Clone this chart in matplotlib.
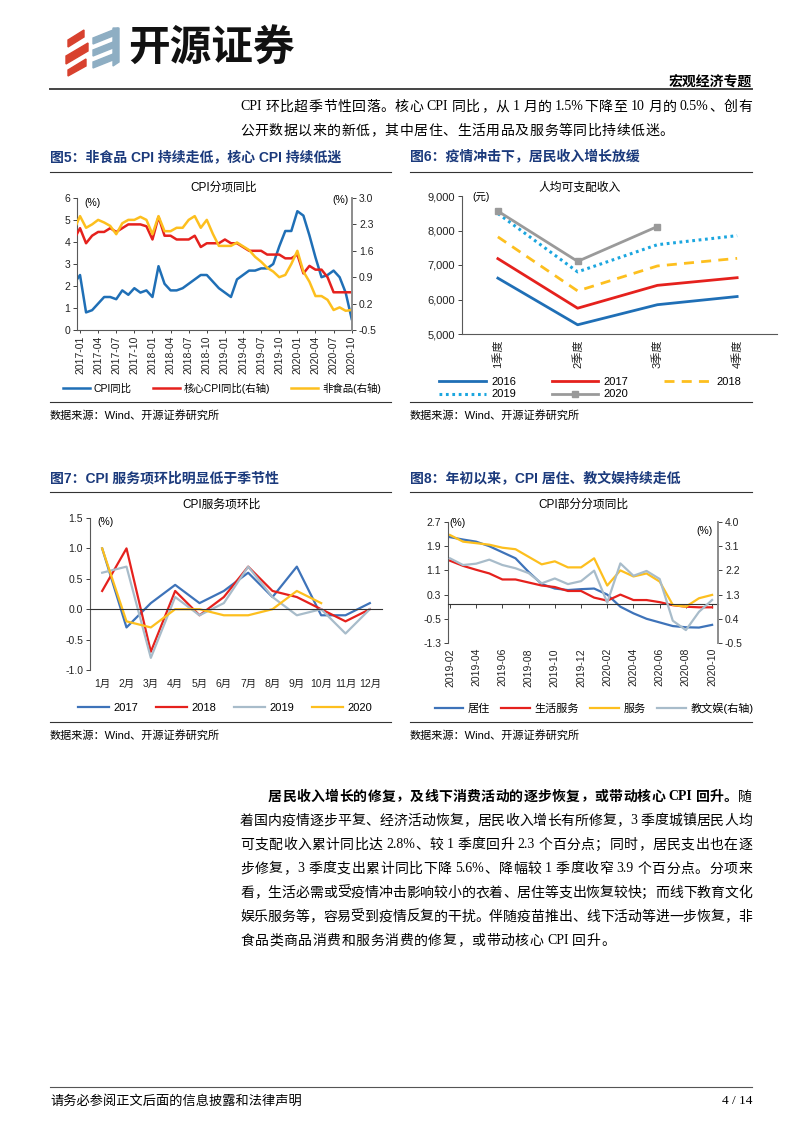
import re
import numpy as np
import matplotlib
matplotlib.use('Agg')
import matplotlib.pyplot as plt
from matplotlib.patches import Polygon
from matplotlib.lines import Line2D
from matplotlib.ticker import FuncFormatter

plt.rcParams['font.family'] = ['Liberation Sans', 'Noto Sans CJK SC']
plt.rcParams['axes.unicode_minus'] = False

# ---------------- data ----------------
all_months = [f'{y}-{m:02d}' for y in range(2016, 2021) for m in range(1, 13)]

# 图5: CPI分项同比, 2016-12 ~ 2020-10
months5 = all_months[11:58]
cpi_yoy = [2.1, 2.5, 0.8, 0.9, 1.2, 1.5, 1.5, 1.4, 1.8, 1.6, 1.9, 1.7, 1.8,
           1.5, 2.9, 2.1, 1.8, 1.8, 1.9, 2.1, 2.3, 2.5, 2.5, 2.2, 1.9,
           1.7, 1.5, 2.3, 2.5, 2.7, 2.7, 2.8, 2.8, 3.0, 3.8, 4.5, 4.5,
           5.4, 5.2, 4.3, 3.3, 2.4, 2.5, 2.7, 2.4, 1.7, 0.5]
core_yoy = [1.9, 2.2, 1.8, 2.0, 2.1, 2.1, 2.2, 2.1, 2.2, 2.3, 2.3, 2.3, 2.25,
            1.9, 2.5, 2.0, 2.0, 1.9, 1.9, 1.9, 2.0, 1.7, 1.8, 1.8, 1.8,
            1.9, 1.8, 1.8, 1.7, 1.6, 1.6, 1.6, 1.5, 1.5, 1.5, 1.4, 1.4,
            1.5, 1.0, 1.2, 1.1, 1.1, 0.9, 0.5, 0.5, 0.5, 0.5]
nonfood_yoy = [2.15, 2.52, 2.21, 2.3, 2.42, 2.35, 2.26, 2.04, 2.33, 2.42, 2.42, 2.5, 2.42,
               2.04, 2.52, 2.12, 2.12, 2.21, 2.21, 2.42, 2.52, 2.21, 2.42, 2.05, 1.73,
               1.73, 1.73, 1.82, 1.72, 1.62, 1.44, 1.31, 1.15, 1.05, 0.9, 0.96, 1.25,
               1.6, 1.05, 0.78, 0.4, 0.4, 0.3, 0.03, 0.1, 0.01, 0.03]

# 图6: 人均可支配收入(元)
quarters = ['1季度', '2季度', '3季度', '4季度']
inc_2016 = [6619, 5267, 5849, 6086]
inc_2017 = [7184, 5748, 6410, 6632]
inc_2018 = [7815, 6248, 6972, 7193]
inc_2019 = [8493, 6801, 7588, 7851]
inc_2020 = [8561, 7105, 8115]

# 图7: CPI服务项环比
months7 = [f'{m}月' for m in range(1, 13)]
svc_2017 = [1.0, -0.3, 0.1, 0.4, 0.1, 0.3, 0.6, 0.2, 0.7, -0.1, -0.1, 0.1]
svc_2018 = [0.3, 1.0, -0.7, 0.3, -0.1, 0.2, 0.7, 0.3, 0.2, 0.0, -0.2, 0.0]
svc_2019 = [0.6, 0.7, -0.8, 0.2, -0.1, 0.1, 0.7, 0.2, -0.1, 0.0, -0.4, 0.0]
svc_2020 = [1.0, -0.2, -0.3, 0.0, 0.0, -0.1, -0.1, 0.0, 0.3, 0.1]

# 图8: CPI部分分项同比, 2019-02 ~ 2020-10
months8 = all_months[37:58]
housing = [2.2, 2.12, 2.05, 1.9, 1.7, 1.5, 1.05, 0.65, 0.5, 0.45, 0.48, 0.5, 0.3,
           -0.1, -0.32, -0.5, -0.62, -0.74, -0.78, -0.79, -0.7]
life_svc = [1.42, 1.25, 1.12, 1.0, 0.8, 0.8, 0.7, 0.6, 0.55, 0.42, 0.42, 0.2, 0.1,
            0.3, 0.12, 0.12, 0.05, -0.05, -0.1, -0.12, -0.12]
services = [2.27, 2.05, 2.0, 1.95, 1.85, 1.8, 1.55, 1.3, 1.4, 1.2, 1.2, 1.5, 0.6,
            1.1, 0.9, 1.0, 0.73, -0.04, -0.1, 0.18, 0.29]
edu_cult = [2.65, 2.4, 2.45, 2.6, 2.4, 2.28, 2.1, 1.72, 1.9, 1.69, 1.8, 2.19, 1.0,
            2.46, 2.0, 2.18, 1.88, 0.33, -0.02, 0.66, 1.1]

# ---------------- colours ----------------
BLUE = '#1F6FB6'
RED = '#E5211D'
YEL = '#FDBF1E'
CYAN = '#1BA6DF'
GREY = '#9A9A9A'
BLUE2 = '#3E73B9'
GREY2 = '#A8BCCA'
NAVY = '#1B3A7C'
SPINE = '#595959'

W, H = 800, 1132
fig = plt.figure(figsize=(8, 11.32), dpi=100)


def fy(y):
    return 1 - y / H


def box(x0, y0, x1, y1):
    return [x0 / W, 1 - y1 / H, (x1 - x0) / W, (y1 - y0) / H]


def hline(x0, x1, y, lw=0.8, color='#333333'):
    fig.add_artist(Line2D([x0 / W, x1 / W], [fy(y), fy(y)], lw=lw, color=color))


def ftext(x, y, s, **kw):
    kw.setdefault('va', 'center')
    return fig.text(x / W, fy(y), s, **kw)


fmt1 = FuncFormatter(lambda v, p: f'{v:.1f}')

# ---------------- page header ----------------
red_bars = [[(68, 40), (84, 30), (84, 37), (68, 47)],
            [(66, 56), (88, 43), (88, 51), (66, 64)],
            [(68, 70), (86, 59), (86, 66), (68, 76)]]
blue_bars = [[(93, 38), (118, 28), (118, 34), (93, 44)],
             [(93, 50), (118, 40), (118, 46), (93, 56)],
             [(93, 62), (118, 52), (118, 58), (93, 68)],
             [(113, 28), (119, 28), (119, 62), (113, 66)]]
for pts in red_bars:
    fig.add_artist(Polygon([(x / W, fy(y)) for x, y in pts], closed=True, color='#D8412E'))
for pts in blue_bars:
    fig.add_artist(Polygon([(x / W, fy(y)) for x, y in pts], closed=True, color='#8EAEC3'))
ftext(128, 49, '开源证券', fontsize=30, fontweight='bold', family='Noto Sans CJK SC', color='#111111')
ftext(752, 83, '宏观经济专题', fontsize=10, fontweight='bold', ha='right', family='Noto Sans CJK SC')
hline(50, 752, 89, lw=1.4, color='#444444')

BODY = ['Liberation Serif', 'Noto Sans CJK SC']


def put_line(segs, x0, y, x1=None, size=10):
    # segs: list of (text, weight); spreads tokens so the line ends at x1
    r = fig.canvas.get_renderer()
    toks = []
    for s, wt in segs:
        for t in re.findall(r'[A-Za-z0-9.%/]+| |[^ ]', s):
            toks.append((t, wt))
    ws = []
    for t, wt in toks:
        if t == ' ':
            ws.append(3.0)
            continue
        tt = fig.text(0, 0, t, fontsize=size, fontweight=wt, family=BODY)
        ws.append(tt.get_window_extent(r).width)
        tt.remove()
    n = sum(1 for t, _ in toks if t != ' ')
    gap = 0.6
    if x1 is not None and n > 1:
        gap = (x1 - x0 - sum(ws)) / (n - 1)
    x = x0
    for (t, wt), w in zip(toks, ws):
        if t == ' ':
            x += w
            continue
        ftext(x, y, t, fontsize=size, fontweight=wt, family=BODY, ha='left')
        x += w + gap


put_line([('CPI 环比超季节性回落。核心 CPI 同比，从 1 月的 1.5%下降至 10 月的 0.5%、创有', 'normal')], 240, 107, 752)
put_line([('公开数据以来的新低，其中居住、生活用品及服务等同比持续低迷。', 'normal')], 240, 131)

# ---------------- captions ----------------
ftext(50, 157, '图5：非食品 CPI 持续走低，核心 CPI 持续低迷', fontsize=10, fontweight='bold', color=NAVY)
ftext(410, 157, '图6：疫情冲击下，居民收入增长放缓', fontsize=10, fontweight='bold', color=NAVY)
hline(50, 391, 172)
hline(410, 752, 172)
hline(50, 391, 402)
hline(410, 752, 402)
ftext(50, 415, '数据来源：Wind、开源证券研究所', fontsize=8)
ftext(410, 415, '数据来源：Wind、开源证券研究所', fontsize=8)

ftext(50, 478, '图7：CPI 服务项环比明显低于季节性', fontsize=10, fontweight='bold', color=NAVY)
ftext(410, 478, '图8：年初以来，CPI 居住、教文娱持续走低', fontsize=10, fontweight='bold', color=NAVY)
hline(50, 391, 492)
hline(410, 752, 492)
hline(50, 391, 722)
hline(410, 752, 722)
ftext(50, 735, '数据来源：Wind、开源证券研究所', fontsize=8)
ftext(410, 735, '数据来源：Wind、开源证券研究所', fontsize=8)

# ---------------- 图5 ----------------
ax1 = fig.add_axes(box(77, 198, 352, 330))
x5 = np.arange(len(months5))
l1, = ax1.plot(x5, cpi_yoy, color=BLUE, lw=1.8)
ax1.set_xlim(0.5, 46.05)
ax1.set_ylim(0, 6)
ax1.set_yticks(range(7))
ax1.set_xticks(x5[1::3])
ax1.set_xticklabels(months5[1::3])
ax1r = ax1.twinx()
l2, = ax1r.plot(x5, core_yoy, color=RED, lw=1.8)
l3, = ax1r.plot(x5, nonfood_yoy, color=YEL, lw=1.8)
ax1r.set_ylim(-0.5, 3.0)
ax1r.set_yticks([-0.5, 0.2, 0.9, 1.6, 2.3, 3.0])
ax1r.yaxis.set_major_formatter(fmt1)
for a in (ax1, ax1r):
    a.spines['top'].set_visible(False)
    a.tick_params(labelsize=7.5, length=3, width=0.6, pad=2, colors='#222222')
ax1.spines['right'].set_visible(False)
ax1r.spines['left'].set_visible(False)
ax1r.spines['bottom'].set_visible(False)
ax1.spines['left'].set_color(SPINE)
ax1.spines['bottom'].set_color(SPINE)
ax1r.spines['right'].set_color('#8C8C8C')
ax1r.spines['right'].set_linewidth(1.4)
ax1.tick_params(axis='x', length=2, labelrotation=90)
ftext(224, 188, 'CPI分项同比', fontsize=8.5, ha='center')
ftext(84, 203, '(%)', fontsize=7.5)
ftext(332, 200, '(%)', fontsize=7.5)
fig.legend([l1, l2, l3], ['CPI同比', '核心CPI同比(右轴)', '非食品(右轴)'],
           loc='center', bbox_to_anchor=(222 / W, fy(388)), ncol=3, frameon=False,
           fontsize=7.5, handlelength=2.6, handletextpad=0.4, columnspacing=2.0)

# ---------------- 图6 ----------------
ax2 = fig.add_axes(box(462, 196, 777, 334))
xq = np.arange(len(quarters))
h16, = ax2.plot(xq, inc_2016, color=BLUE, lw=2)
h17, = ax2.plot(xq, inc_2017, color=RED, lw=2)
h18, = ax2.plot(xq, inc_2018, color=YEL, lw=2, dashes=(3.6, 2.6))
h19, = ax2.plot(xq, inc_2019, color=CYAN, lw=2.2, dashes=(0.9, 1.2))
h20, = ax2.plot(xq[:len(inc_2020)], inc_2020, color=GREY, lw=2, marker='s', ms=4.5)
ax2.set_xlim(-0.45, 3.5)
ax2.set_ylim(5000, 9000)
ax2.set_yticks(range(5000, 9001, 1000))
ax2.yaxis.set_major_formatter(FuncFormatter(lambda v, p: f'{int(v):,}'))
ax2.set_xticks(xq)
ax2.set_xticklabels(quarters)
ax2.spines[['top', 'right']].set_visible(False)
ax2.spines['left'].set_color(SPINE)
ax2.spines['bottom'].set_color(SPINE)
ax2.tick_params(labelsize=8, length=3, width=0.6, pad=2, colors='#222222')
ax2.tick_params(axis='x', length=0, pad=4, labelrotation=90)
ftext(580, 188, '人均可支配收入', fontsize=8.5, ha='center')
ftext(472, 197, '(元)', fontsize=7.5)
fig.legend([h16, h19, h17, h20, h18], ['2016', '2019', '2017', '2020', '2018'],
           loc='center', bbox_to_anchor=(590 / W, fy(388)), ncol=3, frameon=False,
           fontsize=8, handlelength=4.2, handletextpad=0.5, columnspacing=3.2,
           labelspacing=0.25)

# ---------------- 图7 ----------------
ax3 = fig.add_axes(box(90, 518, 382, 670))
hs = []
for vals, c, lab in [(svc_2017, BLUE2, '2017'), (svc_2018, RED, '2018'),
                     (svc_2019, GREY2, '2019'), (svc_2020, YEL, '2020')]:
    h, = ax3.plot(np.arange(len(vals)), vals, color=c, lw=1.6, label=lab)
    hs.append(h)
ax3.set_xlim(-0.5, 11.5)
ax3.set_ylim(-1.0, 1.5)
ax3.set_yticks(np.arange(-1.0, 1.51, 0.5))
ax3.yaxis.set_major_formatter(fmt1)
ax3.spines[['top', 'right']].set_visible(False)
ax3.spines['bottom'].set_position(('data', 0))
ax3.spines['bottom'].set_color('#333333')
ax3.spines['left'].set_color(SPINE)
ax3.set_xticks(np.arange(12))
ax3.set_xticklabels(months7)
ax3.tick_params(labelsize=7.5, length=3, width=0.6, pad=2, colors='#222222')
ax3.tick_params(axis='x', length=0, pad=50)
ftext(222, 505, 'CPI服务项环比', fontsize=8.5, ha='center')
ftext(97, 522, '(%)', fontsize=7.5)
fig.legend(hs, [h.get_label() for h in hs], loc='center', bbox_to_anchor=(225 / W, fy(708)),
           ncol=4, frameon=False, fontsize=8, handlelength=2.8, handletextpad=0.4,
           columnspacing=1.6)

# ---------------- 图8 ----------------
ax4 = fig.add_axes(box(448, 522, 718, 643))
x8 = np.arange(len(months8))
g1, = ax4.plot(x8, housing, color=BLUE2, lw=1.6)
g2, = ax4.plot(x8, life_svc, color=RED, lw=1.6)
g3, = ax4.plot(x8, services, color=YEL, lw=1.6)
ax4.set_xlim(-0.15, 20.45)
ax4.set_ylim(-1.3, 2.7)
ax4.set_yticks([-1.3, -0.5, 0.3, 1.1, 1.9, 2.7])
ax4.yaxis.set_major_formatter(fmt1)
ax4.set_xticks(x8[::2])
ax4.set_xticklabels(months8[::2])
ax4r = ax4.twinx()
g4, = ax4r.plot(x8, edu_cult, color=GREY2, lw=1.6)
ax4r.set_ylim(-0.5, 4.0)
ax4r.set_yticks([-0.5, 0.4, 1.3, 2.2, 3.1, 4.0])
ax4r.yaxis.set_major_formatter(fmt1)
for a in (ax4, ax4r):
    a.spines['top'].set_visible(False)
    a.tick_params(labelsize=7.5, length=3, width=0.6, pad=2, colors='#222222')
ax4.spines['right'].set_visible(False)
ax4r.spines['left'].set_visible(False)
ax4r.spines['bottom'].set_visible(False)
ax4.spines['bottom'].set_position(('data', 0))
ax4.spines['bottom'].set_color('#333333')
ax4.spines['left'].set_color(SPINE)
ax4r.spines['right'].set_color('#8C8C8C')
ax4r.spines['right'].set_linewidth(1.4)
ax4.tick_params(axis='x', length=3, pad=29, labelrotation=90)
ftext(583, 505, 'CPI部分分项同比', fontsize=8.5, ha='center')
ftext(449, 523, '(%)', fontsize=7.5)
ftext(696, 531, '(%)', fontsize=7.5)
fig.legend([g1, g2, g3, g4], ['居住', '生活服务', '服务', '教文娱(右轴)'], loc='center',
           bbox_to_anchor=(594 / W, fy(708)), ncol=4, frameon=False, fontsize=8,
           handlelength=2.6, handletextpad=0.4, columnspacing=1.0)

# ---------------- body text ----------------
put_line([('居民收入增长的修复，及线下消费活动的逐步恢复，或带动核心 CPI 回升。', 'bold'), ('随', 'normal')],
         268, 797, 752)
body = ['着国内疫情逐步平复、经济活动恢复，居民收入增长有所修复，3 季度城镇居民人均',
        '可支配收入累计同比达 2.8%、较 1 季度回升 2.3 个百分点；同时，居民支出也在逐',
        '步修复，3 季度支出累计同比下降 5.6%、降幅较 1 季度收窄 3.9 个百分点。分项来',
        '看，生活必需或受疫情冲击影响较小的衣着、居住等支出恢复较快；而线下教育文化',
        '娱乐服务等，容易受到疫情反复的干扰。伴随疫苗推出、线下活动等进一步恢复，非']
for i, s in enumerate(body):
    put_line([(s, 'normal')], 240, 821 + 24 * i, 752)
put_line([('食品类商品消费和服务消费的修复，或带动核心 CPI 回升。', 'normal')], 240, 941)

# ---------------- footer ----------------
hline(50, 752, 1087, lw=0.8, color='#555555')
ftext(50, 1101, '请务必参阅正文后面的信息披露和法律声明', fontsize=9.5, family='Noto Sans CJK SC')
ftext(752, 1101, '4 / 14', fontsize=9.5, ha='right', family=BODY)

fig.savefig('out.png', dpi=100)
